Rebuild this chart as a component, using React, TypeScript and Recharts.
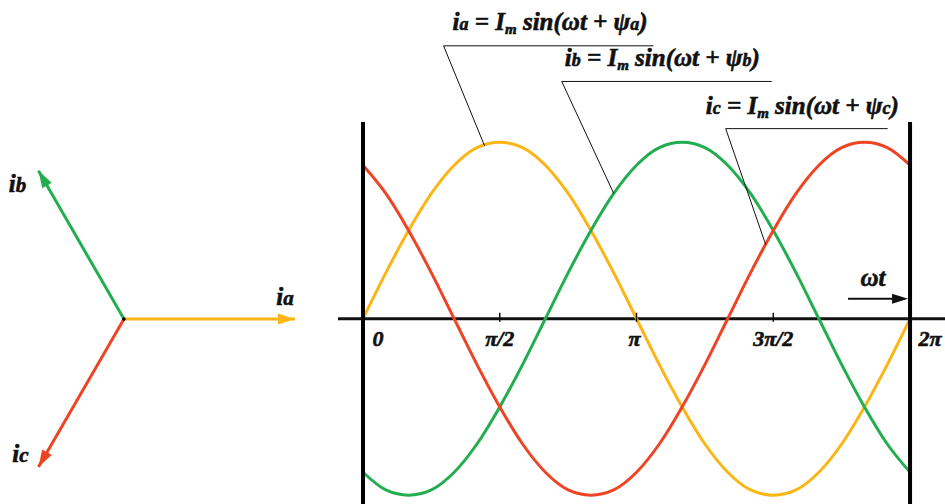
import { LineChart, Line, XAxis, YAxis, ReferenceLine, ReferenceDot } from 'recharts'

// phase currents sampled every 15 degrees over one period (unit amplitude Im)
const angleDeg = [0, 15, 30, 45, 60, 75, 90, 105, 120, 135, 150, 165, 180, 195, 210, 225, 240, 255, 270, 285, 300, 315, 330, 345, 360]
const iaValues = [0, 0.26, 0.5, 0.71, 0.87, 0.97, 1, 0.97, 0.87, 0.71, 0.5, 0.26, 0, -0.26, -0.5, -0.71, -0.87, -0.97, -1, -0.97, -0.87, -0.71, -0.5, -0.26, 0]
const ibValues = [-0.87, -0.97, -1, -0.97, -0.87, -0.71, -0.5, -0.26, 0, 0.26, 0.5, 0.71, 0.87, 0.97, 1, 0.97, 0.87, 0.71, 0.5, 0.26, 0, -0.26, -0.5, -0.71, -0.87]
const icValues = [0.87, 0.71, 0.5, 0.26, 0, -0.26, -0.5, -0.71, -0.87, -0.97, -1, -0.97, -0.87, -0.71, -0.5, -0.26, 0, 0.26, 0.5, 0.71, 0.87, 0.97, 1, 0.97, 0.87]

const tickDeg = [0, 90, 180, 270, 360]
const tickLabels = ['0', 'π/2', 'π', '3π/2', '2π']

// phasor diagram: angle in degrees, magnitude in units of Im
const phasorNames = ['a', 'b', 'c']
const phasorAngles = [0, 120, 240]
const phasorMagnitude = [1, 1, 1]

const COLORS = { a: '#FDB515', b: '#22AE4E', c: '#EF4424' }
// bold italic serif, with a hairline stroke to thicken the glyphs
const serif = {
  fontFamily: "'Liberation Serif', 'Times New Roman', Times, serif",
  fontWeight: 700,
  fontStyle: 'italic',
  stroke: '#111',
  strokeWidth: 0.6,
} as const

const waveRows = angleDeg.map((deg, i) => ({ deg, ia: iaValues[i], ib: ibValues[i], ic: icValues[i] }))

// where each formula's leader line touches its curve
const annotations = [
  { name: 'a', deg: 80, value: 0.98, dx: -41, dy: -100, len: 210, tx: 9, ty: -16 },
  { name: 'b', deg: 165, value: 0.71, dx: -52, dy: -112, len: 210, tx: 3, ty: -15 },
  { name: 'c', deg: 265, value: 0.42, dx: -40, dy: -116, len: 162, tx: -20, ty: -15 },
]

function Formula({ x, y, name }: { x: number; y: number; name: string }) {
  return (
    <text x={x} y={y} style={{ ...serif, fontSize: 25 }} fill="#111">
      <tspan>i</tspan>
      <tspan style={{ fontSize: 18 }}>{name}</tspan>
      <tspan>{' = I'}</tspan>
      <tspan style={{ fontSize: 15 }} dy={4}>m</tspan>
      <tspan dy={-4}>{' sin(ωt + ψ'}</tspan>
      <tspan style={{ fontSize: 18 }}>{name}</tspan>
      <tspan>)</tspan>
    </text>
  )
}

function PhasorTip(props: any) {
  const { cx, cy, index, payload } = props
  if (index !== 1) {
    return <circle key={`o-${payload.name}`} cx={cx} cy={cy} r={1.5} fill="#000" />
  }
  const a = (payload.angle * Math.PI) / 180
  const ux = Math.cos(a)
  const uy = -Math.sin(a)
  const L = 17
  const W = 5.5
  const bx = cx - ux * L
  const by = cy - uy * L
  const pts = `${cx},${cy} ${bx - uy * W},${by + ux * W} ${bx + uy * W},${by - ux * W}`
  const off: Record<string, [number, number]> = { a: [-10, -14], b: [-21, 21], c: [-18, -5] }
  const [lx, ly] = off[payload.name]
  return (
    <g key={`tip-${payload.name}`}>
      <polygon points={pts} fill={payload.color} />
      <text x={cx + lx} y={cy + ly} textAnchor="middle" style={{ ...serif, fontSize: 25 }} fill="#111">
        <tspan>i</tspan>
        <tspan style={{ fontSize: 21 }}>{payload.name}</tspan>
      </text>
    </g>
  )
}

function PhasorDiagram() {
  return (
    <LineChart width={330} height={504} margin={{ top: 0, right: 0, bottom: 0, left: 0 }}>
      <XAxis type="number" dataKey="x" domain={[-0.725, 1.205]} allowDataOverflow hide />
      <YAxis type="number" dataKey="y" domain={[-1.082, 1.865]} allowDataOverflow hide />
      {phasorNames.map((name, i) => {
        const a = (phasorAngles[i] * Math.PI) / 180
        const m = phasorMagnitude[i]
        const color = COLORS[name as keyof typeof COLORS]
        const data = [
          { x: 0, y: 0, name, angle: phasorAngles[i], color },
          { x: m * Math.cos(a), y: m * Math.sin(a), name, angle: phasorAngles[i], color },
        ]
        return (
          <Line
            key={name}
            data={data}
            dataKey="y"
            type="linear"
            stroke={color}
            strokeWidth={3}
            dot={PhasorTip}
            activeDot={false}
            isAnimationActive={false}
          />
        )
      })}
    </LineChart>
  )
}

function TickMark(props: any, i: number) {
  const { cx, cy } = props
  const labelDx = [15, 0, -2, 0, 20][i]
  const inner = i > 0 && i < tickDeg.length - 1
  return (
    <g>
      {inner && <line x1={cx} y1={cy - 6} x2={cx} y2={cy + 3} stroke="#111" strokeWidth={1.5} />}
      <text x={cx + labelDx} y={cy + 27} textAnchor="middle" style={{ ...serif, fontSize: 22 }} fill="#111">
        {tickLabels[i]}
      </text>
    </g>
  )
}

function Leader(props: any, ann: (typeof annotations)[number]) {
  const { cx, cy } = props
  const sx = cx + ann.dx
  const sy = cy + ann.dy
  return (
    <g>
      <line x1={cx} y1={cy} x2={sx} y2={sy} stroke="#111" strokeWidth={1} />
      <line x1={sx} y1={sy} x2={sx + ann.len} y2={sy} stroke="#111" strokeWidth={1} />
      <Formula x={sx + ann.tx} y={sy + ann.ty} name={ann.name} />
    </g>
  )
}

function OmegaArrow(props: any) {
  const { cx, cy } = props
  const y = cy - 20
  return (
    <g>
      <line x1={cx - 62} y1={y} x2={cx - 14} y2={y} stroke="#111" strokeWidth={2} />
      <polygon points={`${cx - 2},${y} ${cx - 18},${y - 5} ${cx - 18},${y + 5}`} fill="#111" />
      <text x={cx - 37} y={cy - 33} textAnchor="middle" style={{ ...serif, fontSize: 25 }} fill="#111">
        ωt
      </text>
    </g>
  )
}

function Waveforms() {
  return (
    <LineChart width={945} height={504} data={waveRows} margin={{ top: 122, right: 0, bottom: 0, left: 338 }}>
      <XAxis type="number" dataKey="deg" domain={[-16.45, 383]} allowDataOverflow hide />
      <YAxis type="number" domain={[-1.05, 1.115]} allowDataOverflow hide />
      <ReferenceLine y={0} stroke="#111" strokeWidth={3} />
      <Line dataKey="ia" type="monotone" stroke={COLORS.a} strokeWidth={3} dot={false} activeDot={false} isAnimationActive={false} />
      <Line dataKey="ib" type="monotone" stroke={COLORS.b} strokeWidth={3} dot={false} activeDot={false} isAnimationActive={false} />
      <Line dataKey="ic" type="monotone" stroke={COLORS.c} strokeWidth={3} dot={false} activeDot={false} isAnimationActive={false} />
      <ReferenceLine x={0} stroke="#000" strokeWidth={4} />
      <ReferenceLine x={360} stroke="#000" strokeWidth={4} />
      {tickDeg.map((d, i) => (
        <ReferenceDot key={`t${d}`} x={d} y={0} shape={(p: any) => TickMark(p, i)} />
      ))}
      <ReferenceDot x={360} y={0} shape={OmegaArrow} />
      {annotations.map((ann) => (
        <ReferenceDot key={ann.name} x={ann.deg} y={ann.value} shape={(p: any) => Leader(p, ann)} />
      ))}
    </LineChart>
  )
}

export default function App() {
  return (
    <div style={{ position: 'absolute', left: 0, top: 0, width: 945, height: 504, background: '#fff', overflow: 'hidden' }}>
      <div style={{ position: 'absolute', left: 0, top: 0 }}>
        <PhasorDiagram />
      </div>
      <div style={{ position: 'absolute', left: 0, top: 0 }}>
        <Waveforms />
      </div>
    </div>
  )
}
